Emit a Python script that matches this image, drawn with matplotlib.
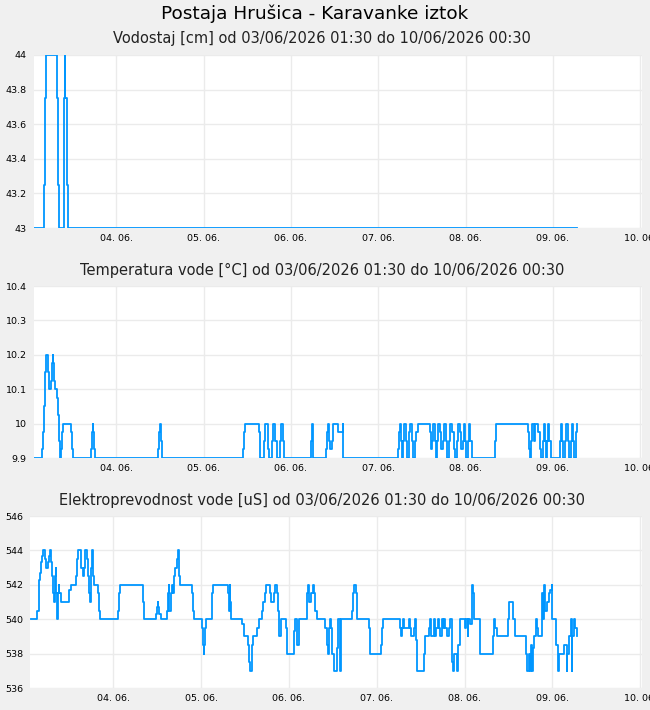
import numpy as np
import pandas as pd
import matplotlib
matplotlib.use('Agg')
import matplotlib.pyplot as plt
import matplotlib.dates as mdates

# hours since 03/06/2026 01:30 where the value changes, and the value from there on
start = pd.Timestamp('2026-06-03 01:30')
end = pd.Timestamp('2026-06-10 00:30')

level_h = [0, 2.7, 2.9, 3.1, 6.1, 6.4, 6.7, 8.0, 8.2, 8.4, 8.5, 8.9, 9.1, 149.1]
level_v = [43, 43.25, 43.75, 44, 43.75, 43.25, 43, 43.25, 43.75, 44, 43.75, 43.25, 43, 43]

temp_h = [0, 2.0, 2.28, 2.55, 2.83, 3.1, 3.65, 4.04, 4.59, 4.86, 5.13, 5.2, 5.5, 5.68, 6.23,
          6.5, 6.78, 6.95, 7.4, 7.7, 7.96, 10.08, 10.35, 10.5, 15.46, 15.73, 16.0, 16.1, 16.4,
          16.75, 34.1, 34.3, 34.6, 34.75, 34.95, 57.4, 57.7, 58.0, 61.6, 61.9, 63.0, 63.3, 64.1,
          64.5, 65.3, 65.6, 66.2, 66.6, 67.4, 67.7, 68.3, 68.5, 76.1, 76.3, 76.5, 76.7, 80.1,
          80.4, 80.6, 80.9, 81.2, 81.7, 82.2, 83.5, 84.8, 84.9, 100.0, 100.3, 100.5, 100.8,
          101.0, 101.3, 101.6, 102.1, 102.5, 103.0, 103.2, 103.8, 104.1, 104.6, 105.0, 105.5,
          108.7, 109.0, 109.3, 109.6, 110.1, 110.4, 110.7, 110.9, 111.5, 111.8, 112.3, 112.6,
          113.1, 113.4, 113.9, 114.2, 114.8, 115.2, 115.6, 116.1, 116.4, 117.0, 117.2, 117.8,
          118.1, 118.3, 118.7, 119.2, 119.4, 119.8, 120.2, 126.6, 126.9, 127.0, 135.7, 135.9,
          136.2, 136.6, 136.9, 137.3, 137.6, 138.4, 138.9, 139.2, 139.8, 140.0, 140.3, 140.6,
          140.9, 141.1, 141.4, 142.1, 144.4, 144.7, 145.0, 145.4, 145.8, 146.2, 146.6, 146.9,
          147.4, 147.7, 148.1, 148.4, 148.8, 149.1]
temp_v = [9.9, 9.925, 9.975, 10.05, 10.15, 10.2, 10.15, 10.1, 10.125, 10.175, 10.2, 10.175, 10.125,
          10.1, 10.075, 10.025, 9.95, 9.9, 9.925, 9.975, 10, 9.975, 9.925, 9.9, 9.925, 9.975, 10,
          9.975, 9.925, 9.9, 9.925, 9.975, 10, 9.95, 9.9, 9.925, 9.975, 10, 9.975, 9.9, 9.95, 10,
          9.925, 9.9, 9.95, 10, 9.95, 9.9, 9.95, 10, 9.95, 9.9, 9.95, 10, 9.975, 9.9, 9.925,
          9.975, 10, 9.95, 9.925, 9.95, 10, 9.975, 10, 9.9, 9.925, 9.975, 10, 9.95,
          9.9, 9.95, 10, 9.95, 9.9, 9.975, 10, 9.95, 9.9, 9.95, 9.975, 10,
          9.975, 9.925, 9.95, 10, 9.95, 9.9, 9.95, 10, 9.975, 9.925, 9.95, 10,
          9.95, 9.9, 9.95, 10, 9.975, 9.925, 9.9, 9.95, 10, 9.975, 9.925, 9.95,
          10, 9.95, 9.9, 9.95, 10, 9.95, 9.9, 9.95, 9.975, 10, 9.975, 9.925,
          9.9, 9.95, 10, 9.95, 10, 9.975, 9.925, 9.9, 9.95, 10, 9.95, 9.9,
          9.95, 10, 9.95, 9.9, 9.95, 10, 9.95, 9.9, 9.95, 10, 9.95, 9.9,
          9.95, 10, 9.95, 9.9, 9.975, 10]

cond_h = [0, 1.64, 2.08, 2.28, 2.53, 2.78, 2.98, 3.38, 3.82, 4.17, 4.62, 4.92, 5.26, 5.36, 5.56,
          5.71, 6.06, 6.36, 6.46, 6.75, 6.9, 7.15, 7.3, 7.55, 7.75, 8.1, 8.35, 10.38, 10.53,
          10.83, 12.37, 12.62, 12.92, 13.71, 14.2, 14.46, 14.65, 14.8, 15.35, 15.6, 15.9, 16.1,
          16.3, 16.54, 16.69, 16.89, 17.29, 18.38, 18.53, 18.88, 23.85, 24.1, 24.34, 30.55,
          30.8, 34.28, 34.58, 34.73, 34.83, 35.13, 35.47, 37.16, 37.46, 37.66, 37.76, 38.25,
          38.65, 38.75, 39.1, 39.5, 39.94, 40.19, 40.34, 40.84, 43.92, 44.27, 44.57, 46.75,
          47.0, 47.3, 47.4, 47.6, 47.94, 49.39, 49.58, 49.73, 53.95, 54.1, 54.35, 54.5, 54.7,
          57.73, 58.23, 59.42, 59.57, 59.77, 60.32, 60.56, 61.86, 62.3, 63.1, 63.45, 63.84,
          64.24, 65.28, 65.63, 66.38, 66.68, 67.32, 67.47, 67.77, 68.46, 69.66, 70.1,
          71.94, 72.29, 72.74, 73.18, 75.52, 75.77, 75.92, 76.41, 77.11, 77.31, 77.76, 78.05,
          80.29, 80.79, 81.23, 81.38, 81.73, 81.98, 82.33, 82.77, 83.67, 84.02, 84.46, 84.71,
          87.79, 88.04, 88.19, 88.84, 89.13, 92.41, 92.76, 95.69, 95.94, 96.24, 100.76, 101.16,
          101.41, 101.65, 101.85, 103.2, 103.49, 103.84, 104.59, 104.93, 105.13, 105.53,
          107.32, 107.57, 108.66, 109.16, 109.41, 110.05, 110.3, 110.8, 111.24, 111.44,
          111.89, 112.34, 112.68, 112.93, 113.23, 113.68, 114.13, 114.57, 115.07, 115.47,
          115.67, 116.56, 116.76, 117.31, 118.6, 118.85, 119.34, 119.49, 120.04, 120.53,
          120.73, 121.13, 122.77, 126.25, 126.6, 126.89, 127.34, 130.32, 130.77, 131.71,
          132.16, 135.24, 135.69, 136.24, 136.48, 136.68, 137.03, 137.23, 137.53, 137.97,
          138.27, 138.67, 139.76, 140.06, 140.26, 140.51, 141.01, 141.6, 141.9, 142.35, 142.5,
          143.44, 143.99, 144.14, 144.33, 145.78, 146.42, 146.57, 147.07, 147.61, 147.77,
          147.96, 148.41, 148.71, 149.15, 149.3]
cond_v = [540, 540.5, 541.5, 542.3, 542.7, 543.3, 543.7, 544, 543.5, 543, 543.3, 543.7, 544, 543.7,
          543.3, 542.5, 541.5, 541, 542.5, 543, 541.5, 540, 541.5, 542, 541.5, 541.2, 541, 541.3,
          541.7, 542, 542.5, 543.5, 544, 543, 542.5, 543, 543.7, 544, 543.5, 542.5, 541.5, 541,
          542.5, 543, 544, 542.5, 542, 541.5, 540.5, 540, 540.5, 541.5, 542, 541,
          540, 540.3, 540.7, 541, 540.7, 540.3, 540, 540.5, 541.5, 542, 540.5, 541.5,
          542, 541.5, 542.5, 543, 543.5, 544, 542.5, 542, 541.5, 540.5, 540, 539.5,
          538.5, 538, 538.5, 539.5, 540, 540.5, 541.5, 542, 541.5, 540.5, 542, 541, 540,
          539.7, 539, 538.5, 537.5, 537, 538.5, 539, 539.5, 540, 540.5, 541, 541.5,
          542, 541.5, 541, 541.5, 542, 541.5, 540.5, 539, 540, 539.5, 538, 539.3,
          540, 538.5, 540, 541.5, 542, 541, 541.5, 542, 541.5, 540.5, 540, 539.5,
          538.5, 538, 539.5, 540, 539.5, 538, 537, 538.3, 540, 537, 540, 540.5,
          541.5, 542, 541.5, 540, 539.5, 538, 538.5, 539.5, 540, 539.5, 539, 539.5,
          540, 539.5, 540, 539.5, 539, 539.5, 540, 538.8, 537, 538,
          539, 539.5, 540, 539, 540, 539, 539.5, 540, 539.5,
          539, 540, 539.5, 540, 539.5, 539, 539.5, 540, 537.5, 537,
          538, 537, 538.5, 540, 539.5, 540, 539, 540, 539.7, 542,
          541.5, 540, 538, 539, 540, 539.5, 539, 540, 541, 540,
          539, 538, 537, 538, 537, 538.5, 537, 538.3, 539, 540,
          539.5, 539, 541.5, 540, 542, 540.5, 541, 541.5, 541.7, 542, 540,
          538.5, 537.5, 537, 538, 538.5, 537, 538, 539, 540, 537,
          539, 540, 539.5, 539, 539]

titles = ['Vodostaj [cm] od 03/06/2026 01:30 do 10/06/2026 00:30',
          'Temperatura vode [°C] od 03/06/2026 01:30 do 10/06/2026 00:30',
          'Elektroprevodnost vode [uS] od 03/06/2026 01:30 do 10/06/2026 00:30']
yticks = [[43, 43.2, 43.4, 43.6, 43.8, 44],
          [9.9, 10, 10.1, 10.2, 10.3, 10.4],
          [536, 538, 540, 542, 544, 546]]
ylabels = [['43', '43.2', '43.4', '43.6', '43.8', '44'],
           ['9.9', '10', '10.1', '10.2', '10.3', '10.4'],
           ['536', '538', '540', '542', '544', '546']]
series = [(level_h, level_v), (temp_h, temp_v), (cond_h, cond_v)]

W, H = 650, 710
fig = plt.figure(figsize=(W / 100, H / 100), dpi=100, facecolor='#f0f0f0')
fig.text(315 / W, 1 - 14 / H, 'Postaja Hrušica - Karavanke iztok', ha='center', va='center',
         fontsize=13.3, color='#000000')

boxes = [(33.5, 55, 228), (33.5, 286, 458), (30, 516, 688)]
title_y = [39, 270, 500]
for i, (left, top, bottom) in enumerate(boxes):
    ax = fig.add_axes([left / W, 1 - bottom / H, (642 - left) / W, (bottom - top) / H])
    ax.set_facecolor('white')
    hrs, vals = series[i]
    t = start + pd.to_timedelta(np.array(hrs), unit='h')
    ax.plot(t, vals, drawstyle='steps-post', color='#0096ff', lw=1.3)
    # the reference starts the time axis a few minutes before 01:30
    ax.set_xlim(start - pd.Timedelta(minutes=15), end)
    ax.set_ylim(yticks[i][0], yticks[i][-1])
    ax.set_yticks(yticks[i])
    ax.set_yticklabels(ylabels[i])
    ax.xaxis.set_major_locator(mdates.DayLocator())
    ax.xaxis.set_major_formatter(mdates.DateFormatter('%d. %m.'))
    ax.grid(True, color='#ebebeb', lw=1)
    ax.set_axisbelow(True)
    for s in ax.spines.values():
        s.set_visible(False)
    ax.tick_params(length=0, labelsize=6.8, pad=5)
    ax.tick_params(axis='x', pad=4)
    fig.text(322 / W, 1 - title_y[i] / H, titles[i], ha='center', va='center', fontsize=10.5,
             color='#222222')

fig.savefig('out.png', dpi=100, facecolor=fig.get_facecolor())
